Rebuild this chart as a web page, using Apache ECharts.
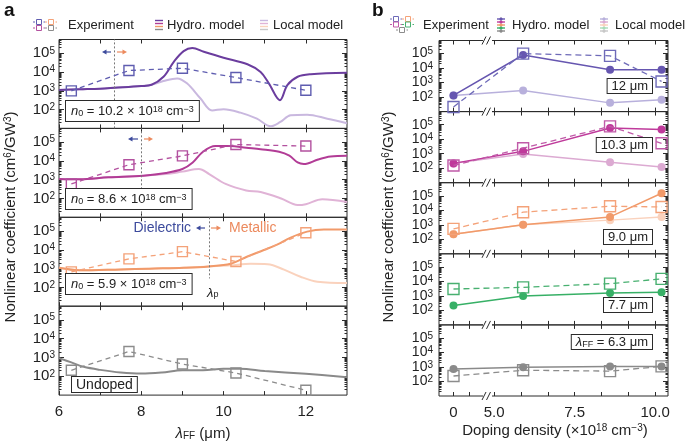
<!DOCTYPE html>
<html>
<head>
<meta charset="utf-8">
<script src="https://cdn.jsdelivr.net/npm/echarts@6/dist/echarts.min.js"></script>
<style>
  html, body { margin: 0; padding: 0; background: #fff; }
  #chart { width: 685px; height: 443px; }
</style>
</head>
<body>
<div id="chart"></div>
<script>
// ---- panel a: nonlinear coefficient vs FF wavelength ----
const lambdaExp = [6.3, 7.7, 9.0, 10.3, 12.0];
const expA1 = [1000, 12000, 16000, 5100, 1070];   // n0 = 10.2e18
const expA2 = [600, 6300, 18500, 75000, 62000];   // n0 = 8.6e18
const expA3 = [670, 3300, 8000, 2400, 82000];     // n0 = 5.9e18
const expA4 = [210, 2100, 450, 150, 18];          // undoped

const hydroA1X = [6.0, 6.5, 7.0, 7.35, 8.0, 8.25, 8.54, 8.79, 9.03, 9.24, 9.52, 10.0, 10.58, 10.9, 11.1, 11.37, 11.55, 11.8, 12.12, 13.0];
const hydroA1 = [1100, 1200, 1300, 1450, 1800, 2100, 5600, 35000, 130000, 190000, 120000, 58000, 26000, 10000, 2500, 320, 2000, 5600, 7600, 9100];
const localA1X = [6.0, 6.5, 7.0, 7.35, 8.0, 8.25, 8.54, 8.87, 9.11, 9.44, 9.72, 10.0, 10.41, 10.81, 11.15, 11.38, 11.63, 12.03, 12.52, 13.0];
const localA1 = [1100, 1200, 1300, 1450, 1800, 2100, 3300, 4600, 2500, 390, 91, 105, 69, 33, 13, 22, 50, 54, 33, 19];

const hydroA2X = [6.0, 6.5, 7.2, 8.05, 8.6, 9.0, 9.25, 9.5, 9.8, 10.15, 10.55, 10.9, 11.35, 11.6, 11.8, 11.95, 12.3, 12.6, 13.0];
const hydroA2 = [1100, 1050, 1350, 1650, 2300, 3700, 8300, 31000, 62000, 62000, 50000, 42000, 31000, 19000, 8300, 6800, 12000, 17000, 19000];
const localA2X = [6.0, 6.5, 7.2, 8.05, 8.6, 9.0, 9.4, 9.65, 10.05, 10.55, 10.9, 11.4, 11.8, 12.0, 12.4, 13.0];
const localA2 = [1100, 1050, 1350, 1650, 2000, 2700, 3700, 2000, 600, 270, 220, 100, 45, 50, 90, 66];

const hydroA3X = [6.0, 6.5, 7.5, 8.2, 9.03, 9.64, 10.17, 10.58, 10.98, 11.3, 11.63, 12.03, 12.44, 13.0];
const hydroA3 = [1100, 810, 910, 1000, 1100, 1300, 1800, 4400, 9800, 19000, 45000, 93000, 120000, 120000];
const localA3X = [6.0, 6.5, 7.5, 8.2, 9.03, 9.64, 10.17, 10.66, 11.07, 11.47, 11.87, 12.28, 13.0];
const localA3 = [1100, 810, 910, 1000, 1100, 1300, 1500, 1800, 1700, 890, 370, 200, 170];

const hydroA4X = [6.0, 6.3, 6.6, 7.0, 7.5, 8.0, 8.5, 9.0, 9.5, 10.0, 10.4, 11.0, 12.0, 13.0];
const hydroA4 = [930, 550, 320, 220, 160, 140, 160, 210, 210, 250, 250, 190, 135, 90];

const lambdaP = [7.35, 8.0, 9.64];
const n0Labels = ['10.2', '8.6', '5.9'];

// ---- panel b: nonlinear coefficient vs doping density ----
const doping = [0, 5.9, 8.6, 10.2];
const expB12 = [21, 100000, 70000, 1200];
const hydroB12 = [130, 80000, 7700, 7700];
const localB12 = [130, 280, 40, 65];
const expB103 = [155, 2400, 77000, 5200];
const hydroB103 = [215, 1450, 60000, 46000];
const localB103 = [215, 950, 260, 120];
const expB90 = [520, 7400, 19000, 17000];
const hydroB90 = [220, 1000, 3500, 150000];
const localB90 = [220, 1000, 2100, 3500];
const expB77 = [3000, 3900, 7000, 15000];
const hydroB77 = [220, 1000, 1600, 1800];
const expB63 = [240, 600, 520, 1100];
const hydroB63 = [740, 950, 1100, 1100];
const wavelengthLabels = ['12 μm', '10.3 μm', '9.0 μm', '7.7 μm', '{i|λ}{u|FF} = 6.3 μm'];

// ---- ticks ----
const xTicksA = [6, 7, 8, 9, 10, 11, 12];
const xLabelsA = [6, 8, 10, 12];
const xTicksB = [0, 0.5, 5, 5.83, 6.67, 7.5, 8.33, 9.17, 10];
const xLabelsB = [0, 5, 7.5, 10];
const yMajor = [100, 1000, 10000, 100000];
const yMinor = [];
[10, 100, 1000, 10000, 100000].forEach(p => { for (let d = 2; d <= 9; d++) yMinor.push(d * p); });

const FONT = '"Liberation Sans", Arial, Helvetica, sans-serif';
const INK = '#2b2b2b';

const C = {
  purH: '#6b3d9e', purE: '#5f5db0', purL: '#c9b8df',
  magH: '#b23c96', magE: '#b3519f', magL: '#e0b3d6',
  orH: '#f19a6a', orE: '#f4a279', orL: '#fad2bd',
  grH: '#8a8a8a', grE: '#8c8c8c',
  bluH: '#6656b0', bluE: '#6e6ab8', bluL: '#b8b0dc',
  bmagH: '#bf3a9b', bmagE: '#c05aa8', bmagL: '#dcaad2',
  grnH: '#37b066', grnE: '#48b070',
  blueTxt: '#3c4a9c', orTxt: '#ec8a5e'
};

function rich(size) {
  return {
    s: { fontFamily: FONT, fontSize: Math.round(size * 0.66), verticalAlign: 'top' },
    u: { fontFamily: FONT, fontSize: Math.round(size * 0.66), verticalAlign: 'bottom' },
    i: { fontFamily: FONT, fontSize: size, fontStyle: 'italic' }
  };
}

const grids = [], xAxes = [], yAxes = [], series = [];

function addGrid(box, xo, yo, showX) {
  const g = grids.length;
  grids.push(Object.assign({ show: true, borderColor: INK, borderWidth: 1, backgroundColor: 'transparent' }, box));
  ['bottom', 'top'].forEach(pos => {
    xAxes.push(Object.assign({
      type: 'value', gridIndex: g, position: pos, min: xo.min, max: xo.max,
      axisLine: { show: false, onZero: false }, splitLine: { show: false },
      axisTick: { inside: true, length: 4, lineStyle: { color: INK }, customValues: xo.ticks },
      axisLabel: {
        show: showX && pos === 'bottom', customValues: xo.labels, formatter: xo.fmt,
        fontFamily: FONT, fontSize: 15, color: '#222', margin: 9
      }
    }, xo.extra || {}));
  });
  ['left', 'right'].forEach(pos => {
    [[yMajor, 5, true], [yMinor.filter(v => v < yo.max), 2.5, false]].forEach(([vals, len, major]) => {
      yAxes.push({
        type: 'log', logBase: 10, gridIndex: g, position: pos, min: yo.min, max: yo.max,
        axisLine: { show: false, onZero: false }, splitLine: { show: false },
        axisTick: { inside: true, length: len, lineStyle: { color: INK }, customValues: vals },
        axisLabel: {
          show: major && pos === 'left', customValues: yMajor,
          formatter: v => '10{s|' + Math.round(Math.log10(v)) + '}',
          rich: { s: { fontFamily: FONT, fontSize: 10, verticalAlign: 'top', color: '#222' } },
          fontFamily: FONT, fontSize: yo.font, color: '#222', margin: yo.margin
        }
      });
    });
  });
  return { x: 2 * g, y: 4 * g };
}

function pairs(xs, ys) { return xs.map((x, i) => [x, ys[i]]); }

function curve(ax, xs, ys, color, z, extra) {
  series.push(Object.assign({
    type: 'line', xAxisIndex: ax.x, yAxisIndex: ax.y, data: pairs(xs, ys),
    showSymbol: false, smooth: 0.35, z,
    lineStyle: { color, width: 2 }, itemStyle: { color }
  }, extra || {}));
}

function expLine(ax, xs, ys, color, size, dash) {
  series.push({
    type: 'line', xAxisIndex: ax.x, yAxisIndex: ax.y, data: pairs(xs, ys), z: 5,
    symbol: 'rect', symbolSize: size,
    lineStyle: { color, width: 1.3, type: dash },
    itemStyle: { color: 'rgba(255,255,255,0)', borderColor: color, borderWidth: 1.4 }
  });
}

function dotLine(ax, xs, ys, color, z) {
  series.push({
    type: 'line', xAxisIndex: ax.x, yAxisIndex: ax.y, data: pairs(xs, ys), z,
    symbol: 'circle', symbolSize: 8,
    lineStyle: { color, width: 1.5 }, itemStyle: { color, borderWidth: 0 }
  });
}

// ---- panel a grids ----
const xA = { min: 6, max: 13, ticks: xTicksA, labels: xLabelsA, fmt: v => String(v) };
const yA = { min: 10, max: 540000, font: 15, margin: 4 };
const topsA = [39.5, 128.4, 217.3, 306.2];
const aSets = [
  { exp: expA1, hx: hydroA1X, hy: hydroA1, lx: localA1X, ly: localA1, h: C.purH, e: C.purE, l: C.purL },
  { exp: expA2, hx: hydroA2X, hy: hydroA2, lx: localA2X, ly: localA2, h: C.magH, e: C.magE, l: C.magL },
  { exp: expA3, hx: hydroA3X, hy: hydroA3, lx: localA3X, ly: localA3, h: C.orH, e: C.orE, l: C.orL },
  { exp: expA4, hx: hydroA4X, hy: hydroA4, h: C.grH, e: C.grE }
];
aSets.forEach((s, i) => {
  const ax = addGrid({ left: 59, width: 288, top: topsA[i], height: 88.9 }, xA, yA, i === 3);
  if (s.lx) curve(ax, s.lx, s.ly, s.l, 2);
  let mark;
  if (i < 3) {
    const seg = i < 2 ? [{ xAxis: lambdaP[i] }] : [[{ coord: [lambdaP[i], 540000] }, { coord: [lambdaP[i], 300] }]];
    mark = {
      silent: true, symbol: 'none', animation: false, label: { show: false },
      lineStyle: { color: '#777', width: 1, type: [2, 2] }, data: seg
    };
  }
  curve(ax, s.hx, s.hy, s.h, 3, mark ? { markLine: mark } : null);
  expLine(ax, lambdaExp, s.exp, s.e, 10, [5, 4]);
});

// ---- panel b grids ----
const xB = {
  min: -0.45, max: 10.4, ticks: xTicksB, labels: xLabelsB,
  fmt: v => (v === 0 ? '0' : v.toFixed(1)),
  extra: { breaks: [{ start: 0.55, end: 4.75, gap: '6.5%' }], breakArea: { show: false } }
};
const yB = { min: 10, max: 800000, font: 14, margin: 6 };
const topsB = [40.5, 111.6, 182.7, 253.8, 324.9];
const bSets = [
  { e: expB12, h: hydroB12, l: localB12, ce: C.bluE, ch: C.bluH, cl: C.bluL },
  { e: expB103, h: hydroB103, l: localB103, ce: C.bmagE, ch: C.bmagH, cl: C.bmagL },
  { e: expB90, h: hydroB90, l: localB90, ce: C.orE, ch: C.orH, cl: C.orL },
  { e: expB77, h: hydroB77, ce: C.grnE, ch: C.grnH },
  { e: expB63, h: hydroB63, ce: C.grE, ch: C.grH }
];
bSets.forEach((s, i) => {
  const ax = addGrid({ left: 439, width: 229, top: topsB[i], height: 71.1 }, xB, yB, i === 4);
  if (s.l) dotLine(ax, doping, s.l, s.cl, 2);
  dotLine(ax, doping, s.h, s.ch, 3);
  expLine(ax, doping, s.e, s.ce, 11, [6, 4]);
});

// ---- annotations ----
const gfx = [];
function text(x, y, str, style, el) {
  gfx.push(Object.assign({
    type: 'text', x, y, z: 100, silent: true,
    style: Object.assign({ text: str, fontFamily: FONT, fontSize: 14, fill: '#222' }, style || {})
  }, el || {}));
}
function boxed(x, y, str, size, align, pad) {
  text(x, y, str, {
    fontSize: size, align: align, verticalAlign: 'top', rich: rich(size),
    backgroundColor: '#fff', borderColor: INK, borderWidth: 1, padding: pad
  });
}
function line(x1, y1, x2, y2, color, w, dash) {
  gfx.push({ type: 'line', z: 100, silent: true, shape: { x1, y1, x2, y2 },
    style: { stroke: color, lineWidth: w || 1, lineDash: dash || null } });
}
function arrow(x1, x2, y, color) {
  const d = Math.sign(x2 - x1);
  line(x1, y, x2 - d * 3, y, color, 1.2);
  gfx.push({ type: 'polygon', z: 100, silent: true,
    shape: { points: [[x2, y], [x2 - d * 4.5, y - 2.6], [x2 - d * 4.5, y + 2.6]] }, style: { fill: color } });
}
function expIcon(x, y, color) {
  line(x, y, x + 12, y, color, 1, [2, 1.5]);
  gfx.push({ type: 'rect', z: 101, silent: true, shape: { x: x + 3.5, y: y - 2.5, width: 5, height: 5 },
    style: { fill: '#fff', stroke: color, lineWidth: 1 } });
}
function stackIcon(x, y0, colors, dots) {
  colors.forEach((c, k) => {
    const y = y0 + k * 3;
    line(x, y, x + 8, y, c, 1.4);
    if (dots) gfx.push({ type: 'circle', z: 101, silent: true, shape: { cx: x + 4, cy: y, r: 1.6 }, style: { fill: c } });
  });
}

// panel letters
text(4, 1, 'a', { fontSize: 19, fontWeight: 'bold', fill: '#111' });
text(372, 1, 'b', { fontSize: 19, fontWeight: 'bold', fill: '#111' });

// legend a
expIcon(33, 22, C.purE); expIcon(45, 22, C.orE);
expIcon(33, 28, C.magE); expIcon(45, 28, C.grE);
stackIcon(155, 20.5, [C.purH, C.magH, C.orH, C.grH], false);
stackIcon(260, 20.5, [C.purL, C.magL, C.orL, '#c8c8c8'], false);
text(68, 25, 'Experiment', { fontSize: 13, verticalAlign: 'middle' });
text(167, 25, 'Hydro. model', { fontSize: 13, verticalAlign: 'middle' });
text(273, 25, 'Local model', { fontSize: 13, verticalAlign: 'middle' });

// legend b
expIcon(390, 19, C.bluE); expIcon(402, 19, C.orE);
expIcon(390, 24.5, C.bmagE); expIcon(402, 24.5, C.grnE);
expIcon(396, 30, C.grE);
line(501, 17, 501, 33, '#999', 0.8);
stackIcon(497, 19, [C.bluH, C.bmagH, C.orH, C.grnH, C.grH], true);
line(604, 17, 604, 33, '#ccc', 0.8);
stackIcon(600, 19, [C.bluL, C.bmagL, C.orL, '#a8dcb8', '#c8c8c8'], true);
text(423, 25, 'Experiment', { fontSize: 13, verticalAlign: 'middle' });
text(512, 25, 'Hydro. model', { fontSize: 13, verticalAlign: 'middle' });
text(615, 25, 'Local model', { fontSize: 13, verticalAlign: 'middle' });

// axis titles
const yTitle = 'Nonlinear coefficient (cm{s|6}/GW{s|3})';
text(11, 217, yTitle, { fontSize: 15, align: 'center', verticalAlign: 'middle', rich: rich(15) }, { rotation: Math.PI / 2 });
text(389, 217, yTitle, { fontSize: 15, align: 'center', verticalAlign: 'middle', rich: rich(15) }, { rotation: Math.PI / 2 });
text(203, 434, '{i|λ}{u|FF} (μm)', { fontSize: 15, align: 'center', verticalAlign: 'middle', rich: rich(15) });
text(555, 431, 'Doping density (×10{s|18} cm{s|−3})', { fontSize: 15, align: 'center', verticalAlign: 'middle', rich: rich(15) });

// panel a boxes
[101, 189, 274].forEach((y, i) => boxed(66, y, '{i|n}{u|0} = ' + n0Labels[i] + ' × 10{s|18} cm{s|−3}', 13, 'left', [4, 5, 3, 5]));
boxed(72, 377, 'Undoped', 14, 'left', [1, 4, 0, 4]);

// dielectric / metallic markers
arrow(111, 102, 52, C.blueTxt); arrow(117, 127, 52, C.orTxt);
arrow(138, 128, 139, C.blueTxt); arrow(144, 153, 139, C.orTxt);
arrow(205, 196, 228, C.blueTxt); arrow(211, 221, 228, C.orTxt);
text(191, 228, 'Dielectric', { fontSize: 14, align: 'right', verticalAlign: 'middle', fill: C.blueTxt });
text(229, 228, 'Metallic', { fontSize: 14, align: 'left', verticalAlign: 'middle', fill: C.orTxt });
text(207, 293, '{i|λ}{u|p}', { fontSize: 13, verticalAlign: 'middle', rich: rich(13) });

// panel b boxes
[79, 138, 230, 298, 335].forEach((y, i) => boxed(652, y, wavelengthLabels[i], 13, 'right', [1, 4, 0, 4]));

// axis break marks
topsB.concat([396]).forEach(y => {
  gfx.push({ type: 'rect', z: 100, silent: true, shape: { x: 483, y: y - 1.5, width: 9, height: 3 }, style: { fill: '#fff' } });
  line(482, y + 4, 486, y - 4, INK, 1);
  line(486.5, y + 4, 490.5, y - 4, INK, 1);
});

const chart = echarts.init(document.getElementById('chart'));
chart.setOption({
  animation: false,
  textStyle: { fontFamily: FONT },
  grid: grids,
  xAxis: xAxes,
  yAxis: yAxes,
  series: series,
  graphic: { elements: gfx }
});
</script>
</body>
</html>
